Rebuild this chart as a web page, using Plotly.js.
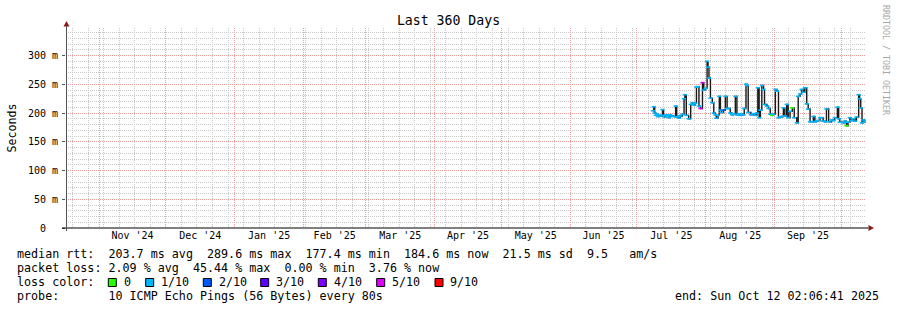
<!DOCTYPE html>
<html>
<head>
<meta charset="utf-8">
<script src="https://cdn.plot.ly/plotly-3.0.1.min.js"></script>
<style>html,body{margin:0;padding:0;background:#fff;}#chart{width:897px;height:310px;}</style>
</head>
<body>
<div id="chart"></div>
<script>
// ---- data (median RTT in ms, loss bucket index) ----
const dates = [
'2025-07-08 05:00','2025-07-08 14:00','2025-07-09 00:00','2025-07-09 12:00','2025-07-10 00:00','2025-07-10 12:00',
'2025-07-11 00:00','2025-07-11 12:00','2025-07-12 12:00','2025-07-13 00:00','2025-07-13 12:00','2025-07-14 00:00',
'2025-07-14 12:00','2025-07-15 00:00','2025-07-15 12:00','2025-07-16 00:00','2025-07-16 12:00','2025-07-17 12:00',
'2025-07-18 10:00','2025-07-18 22:00','2025-07-19 12:00','2025-07-20 00:00','2025-07-20 12:00','2025-07-21 12:00',
'2025-07-22 05:00','2025-07-22 14:00','2025-07-23 05:00','2025-07-24 07:00','2025-07-25 05:00','2025-07-26 00:00',
'2025-07-26 19:00','2025-07-27 05:00','2025-07-27 19:00','2025-07-28 05:00','2025-07-28 22:00','2025-07-29 14:00',
'2025-07-30 12:00','2025-07-31 02:00','2025-07-31 22:00','2025-08-01 14:00','2025-08-02 00:00','2025-08-02 10:00',
'2025-08-03 02:00','2025-08-03 22:00','2025-08-04 14:00','2025-08-05 07:00','2025-08-05 17:00','2025-08-06 12:00',
'2025-08-07 02:00','2025-08-07 14:00','2025-08-08 00:00','2025-08-09 00:00','2025-08-09 19:00','2025-08-10 14:00',
'2025-08-11 07:00','2025-08-12 00:00','2025-08-12 19:00','2025-08-13 12:00','2025-08-14 07:00','2025-08-15 00:00',
'2025-08-15 19:00','2025-08-16 12:00','2025-08-17 07:00','2025-08-18 00:00','2025-08-18 07:00','2025-08-19 02:00',
'2025-08-19 12:00','2025-08-20 02:00','2025-08-21 07:00','2025-08-22 12:00','2025-08-23 12:00','2025-08-24 00:00',
'2025-08-24 10:00','2025-08-25 00:00','2025-08-25 14:00','2025-08-26 05:00','2025-08-27 00:00','2025-08-27 10:00',
'2025-08-28 12:00','2025-08-29 05:00','2025-08-30 00:00','2025-08-30 17:00','2025-08-31 12:00','2025-09-01 07:00',
'2025-09-02 00:00','2025-09-02 17:00','2025-09-03 10:00','2025-09-04 05:00','2025-09-04 22:00','2025-09-05 14:00',
'2025-09-06 10:00','2025-09-07 02:00','2025-09-07 22:00','2025-09-08 22:00','2025-09-09 19:00','2025-09-10 22:00',
'2025-09-11 14:00','2025-09-12 10:00','2025-09-13 02:00','2025-09-13 22:00','2025-09-14 14:00','2025-09-15 10:00',
'2025-09-16 02:00','2025-09-16 22:00','2025-09-17 14:00','2025-09-18 10:00','2025-09-19 02:00','2025-09-19 19:00',
'2025-09-20 14:00','2025-09-21 10:00','2025-09-22 02:00','2025-09-22 19:00','2025-09-23 14:00','2025-09-24 07:00',
'2025-09-25 07:00','2025-09-26 14:00','2025-09-27 07:00','2025-09-28 00:00','2025-09-29 05:00','2025-09-29 19:00',
'2025-09-30 07:00','2025-10-01 19:00','2025-10-02 12:00','2025-10-03 07:00','2025-10-04 00:00','2025-10-04 19:00',
'2025-10-05 12:00','2025-10-06 07:00','2025-10-07 02:00','2025-10-07 19:00','2025-10-08 19:00','2025-10-09 05:00',
'2025-10-09 17:00','2025-10-10 07:00','2025-10-10 19:00','2025-10-11 12:00','2025-10-12 02:00'
];
const medianMs = [
204,211,200,196,198,194,
197,195,206,196,193,197,
194,196,192,197,195,194,
212,193,194,191,195,198,
225,232,196,190,215,218,
214,217,245,246,212,208,
253,240,243,290,280,261,
226,218,200,197,191,196,
229,205,201,205,229,208,
208,200,197,199,229,197,
199,196,198,197,208,250,
248,201,197,199,196,200,
244,192,205,248,241,215,
212,208,198,196,198,241,
238,192,193,194,209,195,
215,192,203,209,192,183,
229,233,241,236,244,216,
207,185,185,194,185,186,
187,192,192,186,185,207,
185,188,187,192,210,190,
184,183,186,178,184,192,
187,190,186,193,232,225,
209,183,188,185,185
];
const lossBucket = [
1,1,1,1,1,1,
1,1,1,1,1,1,
1,1,1,1,1,1,
1,1,1,1,1,1,
1,1,1,1,1,1,
1,1,1,1,1,5,
5,1,1,1,1,1,
1,1,1,1,1,1,
1,1,1,2,1,1,
1,1,1,1,1,1,
1,1,1,1,1,1,
1,1,1,1,1,1,
1,1,1,1,1,1,
1,1,1,0,1,1,
1,1,1,1,1,1,
1,1,1,0,1,1,
1,1,1,1,1,1,
1,1,1,1,1,1,
1,1,1,1,1,1,
1,1,1,1,1,1,
1,1,1,0,1,1,
1,1,1,1,1,1,
1,1,1,1,1
];
const lossLabels = ['0','1/10','2/10','3/10','4/10','5/10','9/10'];
const lossColors = ['#26ff00','#00b8ff','#0059ff','#5e00ff','#7e00ff','#dd00ff','#ff0000'];
const yTickVals = [0,50,100,150,200,250,300];
const yTickText = ['0\u00A0\u00A0','50 m','100 m','150 m','200 m','250 m','300 m'];
const legendLines = [
  'median rtt:  203.7 ms avg  289.6 ms max  177.4 ms min  184.6 ms now  21.5 ms sd  9.5   am/s',
  'packet loss: 2.09 % avg  45.44 % max  0.00 % min  3.76 % now',
  'loss color:',
  'probe:       10 ICMP Echo Pings (56 Bytes) every 80s'
];
const endText = 'end: Sun Oct 12 02:06:41 2025';
const titleText = 'Last 360 Days';
const rangeStart = '2024-10-17 02:06:41';
const rangeEnd = '2025-10-12 02:06:41';

// ---- layout helpers (pixel -> paper) ----
const L = 66, T = 28, W = 800, H = 200;
const px = x => (x - L) / W;
const py = y => (T + H - y) / H;
const nb = s => s.replace(/ /g, '\u00A0');
const MONO = 'DejaVu Sans Mono, monospace';

const traces = [
  {
    x: dates, y: medianMs, type: 'scatter', mode: 'lines', xaxis: 'x2', yaxis: 'y',
    line: {color: 'rgba(0,0,0,0)', width: 0}, hoverinfo: 'skip', showlegend: false
  },
  {
    x: dates, y: medianMs, type: 'scatter', mode: 'lines', xaxis: 'x', yaxis: 'y',
    line: {color: '#1a1a1a', width: 1.4, shape: 'hv'},
    hoverinfo: 'skip', showlegend: false
  },
  {
    x: dates, y: medianMs, type: 'scatter', mode: 'markers', xaxis: 'x', yaxis: 'y',
    marker: {symbol: 'line-ew', size: 3, line: {width: 1.6, color: lossBucket.map(b => lossColors[b])}},
    hoverinfo: 'skip', showlegend: false
  }
];

const annotations = [];
const shapes = [];
const rowY = [254.3, 268.3, 282.3, 296.3];
legendLines.forEach((t, i) => {
  annotations.push({xref: 'paper', yref: 'paper', x: px(16), y: py(rowY[i]), xanchor: 'left', yanchor: 'middle',
    text: nb(t), showarrow: false, borderpad: 0, font: {family: MONO, size: 11.7, color: '#000'}});
});
annotations.push({xref: 'paper', yref: 'paper', x: px(880), y: py(rowY[3]), xanchor: 'right', yanchor: 'middle',
  text: nb(endText), showarrow: false, borderpad: 0, font: {family: MONO, size: 11.7, color: '#000'}});
const boxX = [108.3, 145.7, 203.3, 260.7, 318.3, 376.7, 435];
lossLabels.forEach((lab, i) => {
  shapes.push({type: 'rect', xref: 'paper', yref: 'paper', x0: px(boxX[i]), x1: px(boxX[i] + 8),
    y0: py(278.5), y1: py(286.5), fillcolor: lossColors[i], line: {color: '#000', width: 1}});
  annotations.push({xref: 'paper', yref: 'paper', x: px(boxX[i] + 14.3), y: py(rowY[2]), xanchor: 'left', yanchor: 'middle',
    text: nb(lab), showarrow: false, borderpad: 0, font: {family: MONO, size: 11.7, color: '#000'}});
});
// watermark
annotations.push({xref: 'paper', yref: 'paper', x: px(886), y: py(60), xanchor: 'center', yanchor: 'middle',
  text: nb('RRDTOOL / TOBI OETIKER'), textangle: 90, showarrow: false, borderpad: 0,
  font: {family: MONO, size: 8.3, color: '#a8a8a8'}});
// Seconds label
annotations.push({xref: 'paper', yref: 'paper', x: px(11), y: py(127.5), xanchor: 'center', yanchor: 'middle',
  text: 'Seconds', textangle: -90, showarrow: false, borderpad: 0,
  font: {family: MONO, size: 11.6, color: '#000'}});

// axes lines and arrows
shapes.push({type: 'line', xref: 'paper', yref: 'paper', x0: px(62), x1: px(868.5), y0: py(228), y1: py(228), line: {color: '#000', width: 1}});
shapes.push({type: 'line', xref: 'paper', yref: 'paper', x0: px(66.5), x1: px(66.5), y0: py(231), y1: py(25), line: {color: '#555', width: 1}});
shapes.push({type: 'path', xref: 'paper', yref: 'paper',
  path: `M ${px(66.5)} ${py(21)} L ${px(63.5)} ${py(26.5)} L ${px(69.5)} ${py(26.5)} Z`, fillcolor: '#8b1a1a', line: {width: 0}});
shapes.push({type: 'path', xref: 'paper', yref: 'paper',
  path: `M ${px(874)} ${py(228)} L ${px(868.5)} ${py(225)} L ${px(868.5)} ${py(231)} Z`, fillcolor: '#8b1a1a', line: {width: 0}});

const gridMajor = '#f09a9a';
const gridMinor = '#c8c8c8';
const layout = {
  width: 897, height: 310,
  margin: {l: L, r: 897 - L - W, t: T, b: 310 - T - H, pad: 0},
  paper_bgcolor: '#fff', plot_bgcolor: '#fff',
  title: {text: titleText, font: {family: MONO, size: 13.2, color: '#000'}, x: 0.5, xanchor: 'center',
    y: 1 - 20 / 310, yanchor: 'middle', yref: 'container'},
  // weekly grid axis (data axis)
  xaxis: {
    type: 'date', range: [rangeStart, rangeEnd], fixedrange: true,
    tickmode: 'linear', tick0: '2024-10-20', dtick: 7 * 86400000,
    showticklabels: false, ticks: '', showline: false, zeroline: false,
    showgrid: true, gridcolor: gridMinor, griddash: '1px,1px', gridwidth: 1
  },
  // monthly grid + labels
  xaxis2: {
    type: 'date', overlaying: 'x', side: 'bottom', range: [rangeStart, rangeEnd], fixedrange: true,
    dtick: 'M1', tick0: '2024-11-01', ticklabelmode: 'period', tickformat: "%b '%y",
    ticks: '', showline: false, zeroline: false,
    showgrid: true, gridcolor: gridMajor, griddash: '1px,1px', gridwidth: 1,
    tickfont: {family: MONO, size: 10, color: '#000'}
  },
  yaxis: {
    range: [0, 348], fixedrange: true,
    tickmode: 'array', tickvals: yTickVals, ticktext: yTickText,
    ticks: 'outside', ticklen: 3, tickcolor: '#555', ticklabelstandoff: 2,
    showline: false, zeroline: false,
    showgrid: true, gridcolor: gridMajor, griddash: '1px,1px', gridwidth: 1,
    minor: {dtick: 10, tick0: 0, showgrid: true, gridcolor: gridMinor, griddash: '1px,1px', gridwidth: 1},
    tickfont: {family: MONO, size: 10, color: '#000'}
  },
  annotations: annotations,
  shapes: shapes,
  showlegend: false
};
Plotly.newPlot('chart', traces, layout, {staticPlot: true, displayModeBar: false});
</script>
</body>
</html>
